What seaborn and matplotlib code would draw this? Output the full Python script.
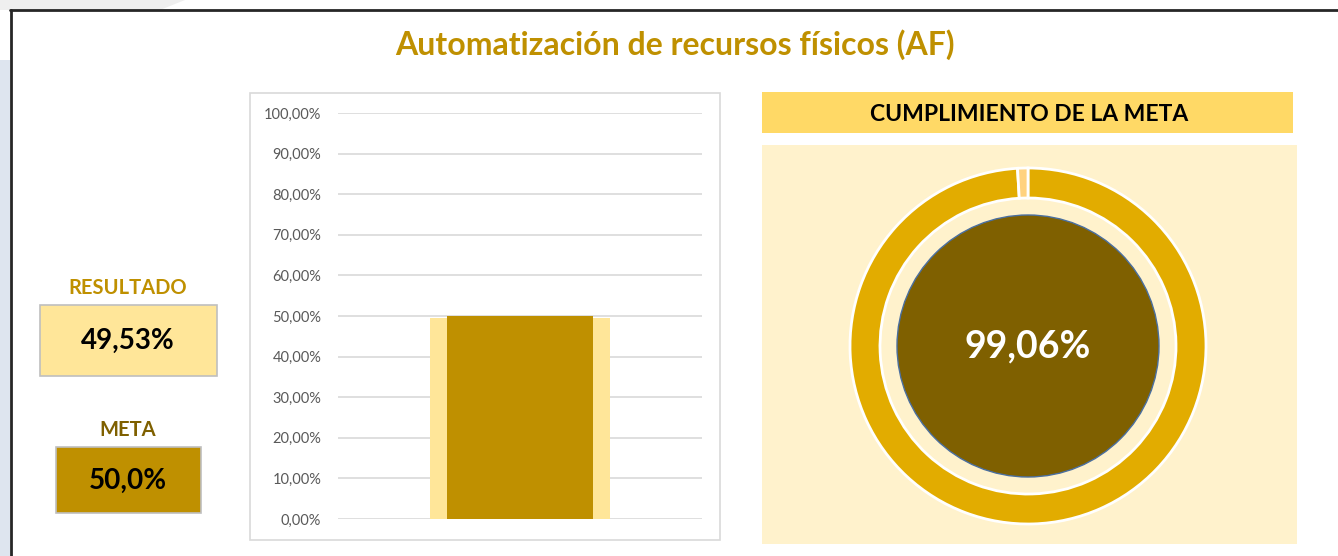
import numpy as np
import pandas as pd
import matplotlib
matplotlib.use("Agg")
import matplotlib.pyplot as plt
from matplotlib.patches import Rectangle, Polygon, Circle
import seaborn as sns

# ---------------- data ----------------
title = "Automatización de recursos físicos (AF)"
categories = ["AF"]
resultado = [49.53]
meta = [50.0]
cumplimiento_labels = ["Cumplido", "Restante"]
cumplimiento = [99.06, 0.94]
ytick_values = [0, 10, 20, 30, 40, 50, 60, 70, 80, 90, 100]
ytick_labels = ["0,00%", "10,00%", "20,00%", "30,00%", "40,00%", "50,00%",
                "60,00%", "70,00%", "80,00%", "90,00%", "100,00%"]
resultado_text = "49,53%"
meta_text = "50,0%"
cumplimiento_text = "99,06%"

# ---------------- style ----------------
sns.set_theme(style="white")
plt.rcParams["font.family"] = ["Lato", "DejaVu Sans"]

W, H = 1338, 556
fig = plt.figure(figsize=(W / 100, H / 100), dpi=100)
fig.patch.set_facecolor("white")


def fx(x):
    return x / W


def fy(y):
    return 1 - y / H


def rect(x0, y0, x1, y1, **kw):
    fig.patches.append(Rectangle((fx(x0), fy(y1)), fx(x1) - fx(x0), fy(y0) - fy(y1),
                                 transform=fig.transFigure, figure=fig, zorder=0.5, **kw))


# background decoration outside frame
fig.patches.append(Polygon([(fx(0), fy(0)), (fx(185), fy(0)), (fx(160), fy(10)), (fx(0), fy(10))],
                           closed=True, transform=fig.transFigure, facecolor="#EFEFEF",
                           edgecolor="none", figure=fig, zorder=0.5))
rect(0, 60, 10, 556, facecolor="#DEE5EF", edgecolor="none")

# frame lines
fig.add_artist(plt.Line2D([fx(10), fx(1338)], [fy(10), fy(10)], transform=fig.transFigure,
                          color="#262626", lw=2, zorder=0.6))
fig.add_artist(plt.Line2D([fx(11), fx(11)], [fy(10), fy(556)], transform=fig.transFigure,
                          color="#262626", lw=2, zorder=0.6))

# title
fig.text(fx(675), fy(45), title, ha="center", va="center", fontsize=23,
         fontweight="bold", color="#BF9000")

# ---------------- left boxes ----------------
fig.text(fx(128), fy(288), "RESULTADO", ha="center", va="center", fontsize=14.5,
         fontweight="bold", color="#BF9000")
rect(40, 305, 217, 376, facecolor="#FFE699", edgecolor="#BFBFBF", lw=1.2)
fig.text(fx(128), fy(341), resultado_text, ha="center", va="center", fontsize=20,
         fontweight="bold", color="black")

fig.text(fx(128), fy(430), "META", ha="center", va="center", fontsize=14.5,
         fontweight="bold", color="#7F6000")
rect(56, 447, 201, 513, facecolor="#BF9000", edgecolor="#BFBFBF", lw=1.2)
fig.text(fx(128), fy(481), meta_text, ha="center", va="center", fontsize=20,
         fontweight="bold", color="black")

# ---------------- bar chart ----------------
rect(250, 93, 720, 540, facecolor="white", edgecolor="#D9D9D9", lw=1.2)
ax = fig.add_axes([fx(338), fy(519), fx(702) - fx(338), fy(113) - fy(519)])
ax.set_zorder(2)
ax.set_facecolor("none")
df_bar = pd.DataFrame({"cat": categories, "resultado": resultado, "meta": meta})
sns.barplot(data=df_bar, x="cat", y="resultado", color="#FFE699", saturation=1,
            width=0.497, linewidth=0, ax=ax, zorder=2)
sns.barplot(data=df_bar, x="cat", y="meta", color="#BF9000", saturation=1,
            width=0.40, linewidth=0, ax=ax, zorder=3)
ax.set_xlim(-0.5, 0.5)
ax.set_ylim(0, 100)
ax.set_yticks(ytick_values)
ax.set_yticklabels(ytick_labels)
ax.yaxis.grid(True, color="#D9D9D9", lw=1.2, zorder=0)
ax.set_axisbelow(True)
ax.tick_params(axis="y", length=0, pad=12, labelsize=10.5, labelcolor="#595959")
ax.set_xticks([])
ax.set_xlabel("")
ax.set_ylabel("")
for s in ax.spines.values():
    s.set_visible(False)

# ---------------- right panel ----------------
rect(762, 92, 1293, 133, facecolor="#FFD966", edgecolor="none")
fig.text(fx(1029), fy(114), "CUMPLIMIENTO DE LA META", ha="center", va="center",
         fontsize=16.5, fontweight="bold", color="black")
rect(762, 145, 1297, 544, facecolor="#FFF2CC", edgecolor="none")

cx, cy, R = 1028, 346, 180
ax2 = fig.add_axes([fx(cx - R), fy(cy + R), fx(2 * R), fy(0) - fy(2 * R)])
ax2.set_zorder(2)
ax2.pie(cumplimiento, labels=None, colors=["#E2AC00", "#FFD27F"], startangle=90,
        counterclock=False, radius=178 / R,
        wedgeprops=dict(width=30 / R, edgecolor="white", linewidth=2))
ax2.add_patch(Circle((0, 0), 131 / R, facecolor="#7F6000", edgecolor="#4A6FA0", lw=1))
ax2.text(0, 0, cumplimiento_text, ha="center", va="center", fontsize=27,
         fontweight="bold", color="white")
ax2.set_xlim(-1, 1)
ax2.set_ylim(-1, 1)
ax2.set_aspect("equal")
ax2.axis("off")

fig.savefig("out.png", dpi=100, facecolor=fig.get_facecolor())
